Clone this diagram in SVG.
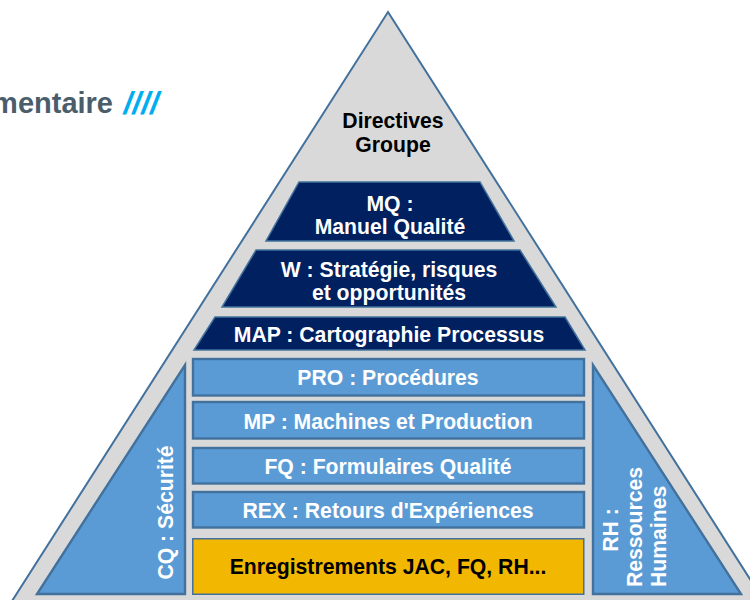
<svg xmlns="http://www.w3.org/2000/svg" width="750" height="600" viewBox="0 0 750 600">
<style>
text{font-family:"Liberation Sans",Arial,sans-serif;font-weight:700;font-size:21.2px;text-anchor:middle}
.w{fill:#fff}.k{fill:#000}
.navy{fill:#002060;stroke:#41719c;stroke-width:1.5}
.blue{fill:#5b9bd5;stroke:#41719c;stroke-width:2.4}
.gold{fill:#f2b700;stroke:#41719c;stroke-width:1.5}
</style>
<rect width="750" height="600" fill="#fff"/>
<g id="title">
<text x="113" y="113" style="text-anchor:end;font-size:29px" fill="#4a5d6b">mentaire</text>
<text x="159" y="114" style="text-anchor:end;font-size:32px;font-style:italic" fill="#00aeef">////</text>
</g>
<g id="pyramid"><polygon points="388,12 771,612 5,612" fill="#d9d9d9" stroke="#41719c" stroke-width="2"/></g>
<g id="directives"><text class="k" x="393" y="127.500">Directives</text><text class="k" x="393" y="152">Groupe</text></g>
<g id="mq"><polygon class="navy" points="299,182 480,182 514,241 266,241"/><text class="w" x="390" y="210.500">MQ :</text><text class="w" x="390" y="234">Manuel Qualité</text></g>
<g id="w"><polygon class="navy" points="256,250 520,250 556,307 222,307"/><text class="w" x="389" y="276.500">W : Stratégie, risques</text><text class="w" x="389" y="300">et opportunités</text></g>
<g id="map"><polygon class="navy" points="215,317 565,317 585,350 194,350"/><text class="w" x="389" y="342">MAP : Cartographie Processus</text></g>
<g id="pro"><rect class="blue" x="193" y="359" width="391" height="36.500"/><text class="w" x="388" y="384.500">PRO : Procédures</text></g>
<g id="mp"><rect class="blue" x="193" y="402" width="391" height="36.500"/><text class="w" x="388" y="428.500">MP : Machines et Production</text></g>
<g id="fq"><rect class="blue" x="193" y="448" width="391" height="35.500"/><text class="w" x="388" y="473.500">FQ : Formulaires Qualité</text></g>
<g id="rex"><rect class="blue" x="193" y="492" width="391" height="35.500"/><text class="w" x="388" y="517.500">REX : Retours d'Expériences</text></g>
<g id="enr"><rect class="gold" x="192.750" y="538.750" width="391" height="55.500"/><text class="k" x="388" y="574">Enregistrements JAC, FQ, RH...</text></g>
<g id="cq"><polygon class="blue" points="185,365 185,594 37,594"/><text class="w" transform="translate(173,512.500) rotate(-90)">CQ : Sécurité</text></g>
<g id="rh"><polygon class="blue" points="593,365 593,594 741,594"/><text class="w" transform="translate(618,530) rotate(-90)">RH :</text><text class="w" style="text-anchor:start" transform="translate(642,587) rotate(-90)">Ressources</text><text class="w" style="text-anchor:start" transform="translate(666,587) rotate(-90)">Humaines</text></g>
</svg>
